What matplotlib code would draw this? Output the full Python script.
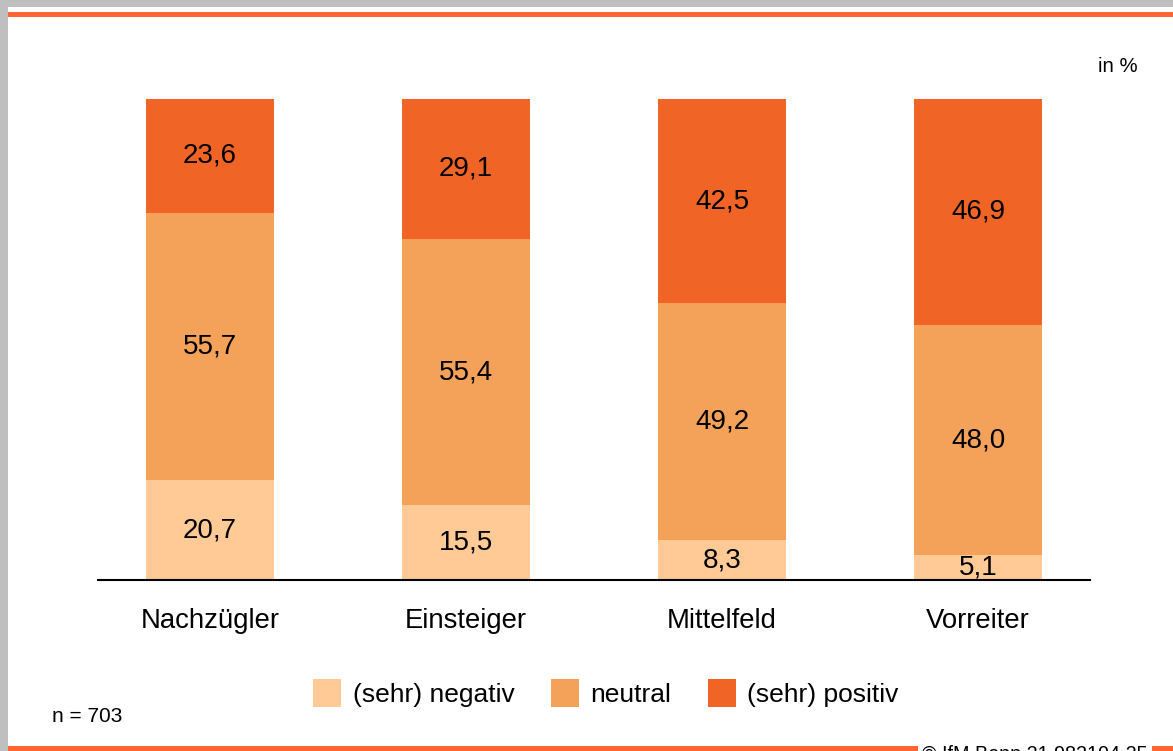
import numpy as np
import matplotlib.pyplot as plt
from matplotlib.patches import Rectangle

plt.rcParams['font.family'] = ['Liberation Sans', 'DejaVu Sans']

# Daten
kategorien = ['Nachzügler', 'Einsteiger', 'Mittelfeld', 'Vorreiter']
negativ = [20.7, 15.5, 8.3, 5.1]
neutral = [55.7, 55.4, 49.2, 48.0]
positiv = [23.6, 29.1, 42.5, 46.9]
serien = ['(sehr) negativ', 'neutral', '(sehr) positiv']
farben = ['#FFCA96', '#F4A259', '#F06526']

W, H = 1173, 751
fig = plt.figure(figsize=(W / 100, H / 100), dpi=100)
fig.patch.set_facecolor('white')

# Rahmen (grau) und orange Linien
fig.add_artist(Rectangle((0, 1 - 7 / H), 1, 7 / H, transform=fig.transFigure,
                         color='#BFBFBF', lw=0))
fig.add_artist(Rectangle((0, 0), 8 / W, 1, transform=fig.transFigure,
                         color='#BFBFBF', lw=0))
fig.add_artist(Rectangle((8 / W, 1 - 17 / H), 1, 5 / H, transform=fig.transFigure,
                         color='#FF6633', lw=0))
fig.add_artist(Rectangle((8 / W, 0), 1, 5 / H, transform=fig.transFigure,
                         color='#FF6633', lw=0))

ax = fig.add_axes([98 / W, 171 / H, 992 / W, 481 / H])
x = np.arange(len(kategorien))
breite = 0.5
unten = np.zeros(len(kategorien))
for werte, name, farbe in zip([negativ, neutral, positiv], serien, farben):
    werte = np.array(werte)
    ax.bar(x, werte, breite, bottom=unten, color=farbe, label=name)
    for xi, b, v in zip(x, unten, werte):
        ax.text(xi, b + v / 2, f'{v:.1f}'.replace('.', ','), ha='center',
                va='center', fontsize=20, color='black')
    unten += werte

ax.set_xlim(-0.4375, 3.4375)
ax.set_ylim(0, 100)
for s in ['top', 'right', 'left']:
    ax.spines[s].set_visible(False)
ax.spines['bottom'].set_linewidth(1.5)
ax.set_yticks([])
ax.set_xticks(x)
ax.set_xticklabels(kategorien, fontsize=19.8)
ax.tick_params(axis='x', length=0, pad=20)

fig.text(1138 / W, 1 - 66 / H, 'in %', ha='right', va='center', fontsize=14.7)
fig.text(52 / W, 1 - 716 / H, 'n = 703', ha='left', va='center', fontsize=15)

# Legende
leg = fig.legend(loc='center', bbox_to_anchor=(606 / W, 1 - 693 / H), ncol=3,
                 frameon=False, fontsize=19, handlelength=1.06, handleheight=1.3,
                 handletextpad=0.42, columnspacing=1.4)

fig.text(1035 / W, 1 - 754 / H, '© IfM Bonn 21 982104 25', ha='center',
         va='center', fontsize=14.2,
         bbox=dict(facecolor='white', edgecolor='none', pad=3))

fig.savefig('out.png', dpi=100)
